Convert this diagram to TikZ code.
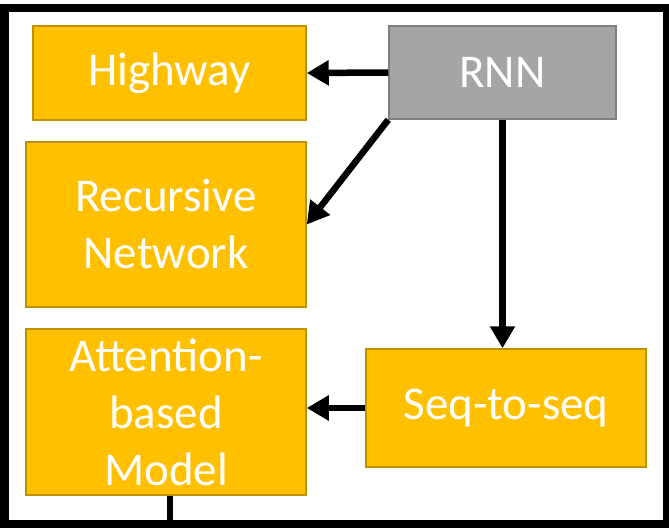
\documentclass[tikz,border=0pt]{standalone}
\usepackage{fontspec}
\setmainfont{Carlito}
\usetikzlibrary{positioning}
\usetikzlibrary{calc}
\usetikzlibrary{arrows.meta}
\definecolor{gold}{RGB}{255,192,0}
\definecolor{golddark}{RGB}{191,144,0}
\definecolor{grayfill}{RGB}{165,165,165}
\definecolor{graydark}{RGB}{127,127,127}

\begin{document}
\begin{tikzpicture}[x=1pt, y=-1pt,
    box/.style={draw=golddark, fill=gold, line width=1.5pt, text=white, inner sep=0pt,
        align=center, font=\fontsize{47}{57}\selectfont},
    rnnbox/.style={box, draw=graydark, fill=grayfill},
    edge/.style={line width=6.5pt, -{Triangle[length=22pt, width=24pt]}}]
        \useasboundingbox (0,0) rectangle (669,529);
        % frame %
        \draw[line width=8.5pt] (4.5,8) rectangle (667,524);
        % nodes %
        \node[box, minimum width=273pt, minimum height=94pt] (hw) at (169.5,73) {Highway};
        \node[box, minimum width=280pt, minimum height=165pt] (rec) at (166,224.5) {Recursive\\Network};
        \node[box, minimum width=280pt, minimum height=166pt] (att) at (166,412) {Attention-\\based\\Model};
        \node[rnnbox, minimum width=227pt, minimum height=93pt] (rnn) at (502.5,72.5) {RNN};
        \node[box, minimum width=280pt, minimum height=118pt] (seq) at (506,408) {Seq-to-seq};
        \coordinate (out) at (170,524);
        % edges %
        \draw[edge] (rnn.west) -- (hw.east);
        \draw[edge] (rnn.south west) -- (rec.east);
        \draw[edge] (rnn.south) -- (rnn.south |- seq.north);
        \draw[edge] (seq.west) -- (seq.west -| att.east);
        \draw[line width=6.5pt] (out |- att.south) -- (out);
\end{tikzpicture}
\end{document}
